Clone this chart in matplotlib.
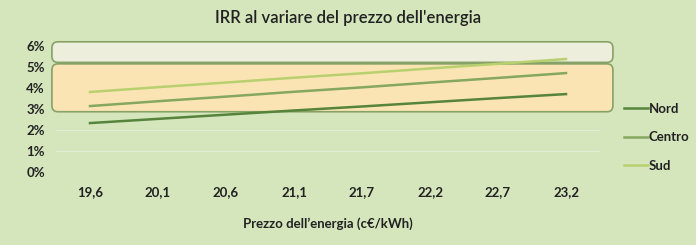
import matplotlib
matplotlib.use("Agg")
import matplotlib.pyplot as plt
from matplotlib.patches import FancyBboxPatch

prices = ["19,6", "20,1", "20,6", "21,1", "21,7", "22,2", "22,7", "23,2"]
nord = [2.33, 2.53, 2.73, 2.93, 3.12, 3.32, 3.52, 3.71]
centro = [3.14, 3.37, 3.59, 3.82, 4.03, 4.26, 4.48, 4.71]
sud = [3.81, 4.04, 4.26, 4.49, 4.70, 4.93, 5.15, 5.38]
series = [("Nord", nord, "#56843a"), ("Centro", centro, "#85a75e"), ("Sud", sud, "#b9d06e")]
yticks = [0, 1, 2, 3, 4, 5, 6]
ytick_labels = ["0%", "1%", "2%", "3%", "4%", "5%", "6%"]
band_upper = (5.22, 6.20)
band_lower = (2.87, 5.15)

bg = "#d5e6bd"
plt.rcParams['font.family'] = ['Lato', 'DejaVu Sans']

fig = plt.figure(figsize=(6.96, 2.45), dpi=100, facecolor=bg)
ax = fig.add_axes([56/696, 73/245, 544/696, 131.25/245])
ax.set_facecolor(bg)
x = list(range(len(prices)))
ax.set_xlim(-0.5, len(prices) - 0.5)
ax.set_ylim(0, 6.25)

# grid
for t in yticks:
    ax.axhline(t, color="#e2edd3", lw=0.8, zorder=0.5)

xunit = 68.0
yunit = 21.0
r = 6 / xunit
for (lo, hi), fc in [(band_upper, "#eeeedc"), (band_lower, "#fbe4b4")]:
    p = FancyBboxPatch((-0.56, lo), 8.25, hi - lo,
                       boxstyle=f"round,pad=0,rounding_size={r}",
                       mutation_aspect=xunit / yunit,
                       fc=fc, ec="#86a266", lw=1.2, zorder=1, clip_on=False,
                       transform=ax.transData)
    ax.add_patch(p)

for name, vals, col in series:
    ax.plot(x, vals, color=col, lw=1.8, label=name, zorder=3)

for s in ax.spines.values():
    s.set_visible(False)
ax.tick_params(length=0)
ax.set_xticks(x)
ax.set_xticklabels(prices, fontsize=9.5, fontweight="bold", color="#222222")
ax.set_yticks(yticks)
ax.set_yticklabels(ytick_labels, fontsize=9.5, fontweight="bold", color="#222222")
ax.tick_params(axis="x", pad=10)
ax.tick_params(axis="y", pad=8)
ax.set_xlabel("Prezzo dell’energia (c€/kWh)", fontsize=9.5, fontweight="bold",
              color="#222222", labelpad=14)
fig.text(0.5, 0.925, "IRR al variare del prezzo dell'energia", ha="center", va="center",
         fontsize=12, fontweight="semibold", color="#222222")

leg = ax.legend(loc="upper left", bbox_to_anchor=(612/696, 154/245), bbox_transform=fig.transFigure,
                frameon=False, handlelength=1.8, handletextpad=0.1, labelspacing=1.25,
                prop={"size": 9.5, "weight": "bold"})
for t in leg.get_texts():
    t.set_color("#222222")

fig.savefig("out.png", dpi=100, facecolor=bg)
